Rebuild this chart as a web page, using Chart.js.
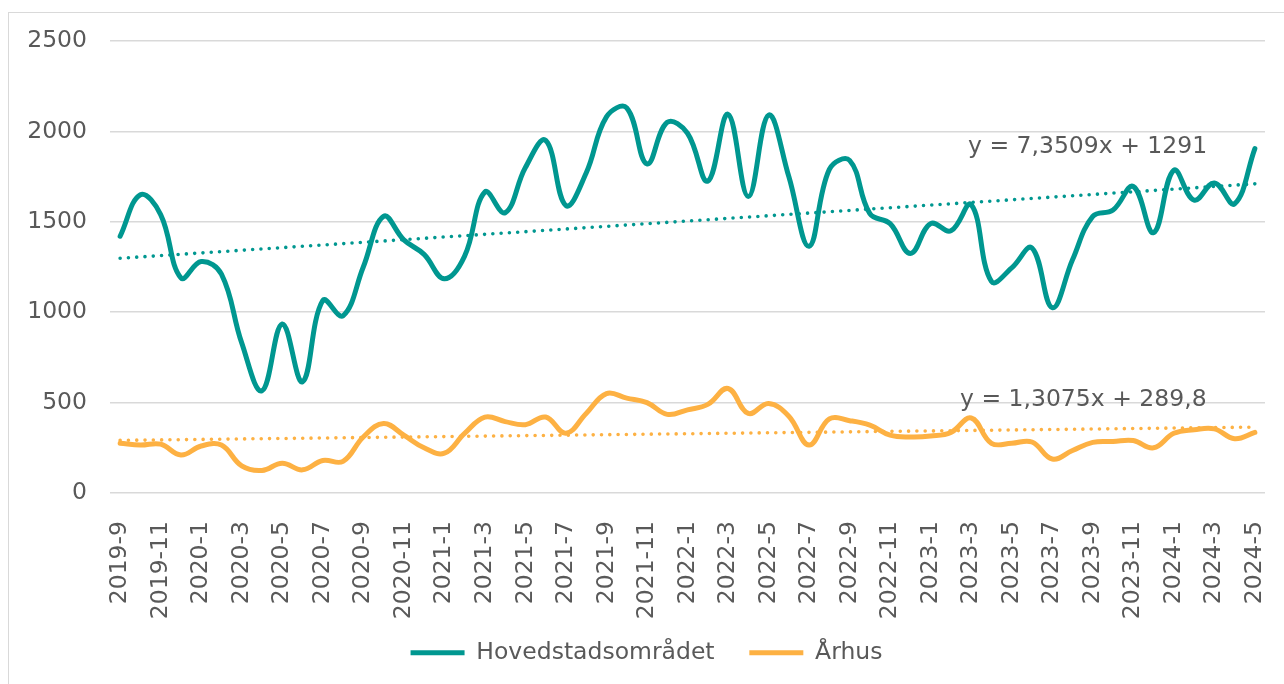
<html lang="da">
<head>
<meta charset="UTF-8">
<title>Hovedstadsområdet / Århus</title>
<script src="https://cdn.jsdelivr.net/npm/chart.js"></script>
<style>
  body { margin: 0; background: #fff; overflow: hidden; }
  #frame { position: absolute; left: 8px; top: 12px; width: 1400px; height: 800px; border: 1.5px solid #d9d9d9; }
  #wrap { position: absolute; left: 0; top: 0; width: 1284px; height: 684px; }
</style>
</head>
<body>
<div id="frame"></div>
<div id="wrap"><canvas id="myChart"></canvas></div>
<script>
// months 2019-9 .. 2024-5
const months = [
  '2019-9','2019-10','2019-11','2019-12',
  '2020-1','2020-2','2020-3','2020-4','2020-5','2020-6','2020-7','2020-8','2020-9','2020-10','2020-11','2020-12',
  '2021-1','2021-2','2021-3','2021-4','2021-5','2021-6','2021-7','2021-8','2021-9','2021-10','2021-11','2021-12',
  '2022-1','2022-2','2022-3','2022-4','2022-5','2022-6','2022-7','2022-8','2022-9','2022-10','2022-11','2022-12',
  '2023-1','2023-2','2023-3','2023-4','2023-5','2023-6','2023-7','2023-8','2023-9','2023-10','2023-11','2023-12',
  '2024-1','2024-2','2024-3','2024-4','2024-5'
];

const hovedstad = [
  1420, 1650, 1540, 1190, 1280, 1210, 830, 565, 935, 615, 1065, 980, 1250, 1530, 1400, 1320,
  1185, 1310, 1665, 1550, 1800, 1950, 1590, 1770, 2080, 2130, 1820, 2050,
  1990, 1725, 2095, 1640, 2090, 1750, 1365, 1790, 1840, 1545, 1490, 1325,
  1490, 1450, 1595, 1170, 1245, 1355, 1025, 1290, 1530, 1565, 1695, 1440,
  1785, 1620, 1715, 1600, 1905
];

const aarhus = [
  275, 265, 270, 210, 260, 265, 150, 125, 165, 128, 180, 175, 310, 385, 320, 250,
  220, 330, 420, 395, 378, 420, 330, 440, 550, 525, 500, 435,
  460, 490, 578, 440, 495, 425, 265, 410, 400, 375, 320, 310,
  315, 335, 415, 275, 275, 282, 188, 235, 280, 285, 290, 250,
  330, 350, 355, 300, 335
];

const seriesNames = ['Hovedstadsområdet', 'Århus'];
const seriesColors = ['#009790', '#FDB143'];

// lineær tendenslinje (fra Excel): y = a*x + b, x = 1..n
const trendSlope = [7.3509, 1.3075];
const trendIntercept = [1291, 289.8];
const trendText = ['y = 7,3509x + 1291', 'y = 1,3075x + 289,8'];

const yTicks = [0, 500, 1000, 1500, 2000, 2500];

function trend(k) {
  return months.map((m, i) => trendSlope[k] * (i + 1) + trendIntercept[k]);
}

const textColor = '#595959';
const fontFamily = '"DejaVu Sans", Verdana, sans-serif';
const fontSize = 23.5;

// tekst til tendenslinjerne
const trendLabels = {
  id: 'trendLabels',
  afterDraw(chart) {
    const ctx = chart.ctx;
    ctx.save();
    ctx.font = fontSize + 'px ' + fontFamily;
    ctx.fillStyle = textColor;
    ctx.textBaseline = 'middle';
    ctx.textAlign = 'left';
    ctx.fillText(trendText[0], 968, 147);
    ctx.fillText(trendText[1], 960, 400);
    ctx.restore();
  }
};

const ctx = document.getElementById('myChart');

new Chart(ctx, {
  type: 'line',
  data: {
    labels: months,
    datasets: [
      {
        label: 'trend1',
        data: trend(0),
        borderColor: seriesColors[0],
        borderWidth: 3.6,
        borderDash: [0, 8.3],
        borderCapStyle: 'round',
        pointRadius: 0,
        tension: 0,
        fill: false
      },
      {
        label: 'trend2',
        data: trend(1),
        borderColor: seriesColors[1],
        borderWidth: 3.6,
        borderDash: [0, 8.3],
        borderCapStyle: 'round',
        pointRadius: 0,
        tension: 0,
        fill: false
      },
      {
        label: seriesNames[0],
        data: hovedstad,
        borderColor: seriesColors[0],
        backgroundColor: seriesColors[0],
        borderWidth: 5,
        borderCapStyle: 'round',
        borderJoinStyle: 'round',
        pointRadius: 0,
        tension: 0.4,
        fill: false
      },
      {
        label: seriesNames[1],
        data: aarhus,
        borderColor: seriesColors[1],
        backgroundColor: seriesColors[1],
        borderWidth: 5,
        borderCapStyle: 'round',
        borderJoinStyle: 'round',
        pointRadius: 0,
        tension: 0.4,
        fill: false
      }
    ]
  },
  options: {
    responsive: true,
    maintainAspectRatio: false,
    animation: false,
    layout: {
      padding: { left: 28, right: 19, top: 41, bottom: 9.5 }
    },
    plugins: {
      tooltip: { enabled: false },
      legend: {
        position: 'bottom',
        labels: {
          generateLabels: (chart) => {
            const items = Chart.defaults.plugins.legend.labels.generateLabels(chart)
              .filter(item => !item.text.startsWith('trend'));
            // lidt ekstra luft mellem de to poster
            items[0].text = items[0].text + '\u2002';
            return items;
          },
          usePointStyle: true,
          pointStyle: 'line',
          pointStyleWidth: 54,
          boxHeight: fontSize,
          padding: 23,
          color: textColor,
          font: { family: fontFamily, size: fontSize }
        }
      }
    },
    scales: {
      x: {
        offset: true,
        grid: { display: false, drawTicks: false },
        border: { display: false },
        ticks: {
          autoSkip: false,
          minRotation: 90,
          maxRotation: 90,
          padding: 28,
          color: textColor,
          font: { family: fontFamily, size: fontSize },
          callback: function (val, i) {
            return i % 2 === 0 ? this.getLabelForValue(val) : '';
          }
        },
        afterFit: (s) => {
          s.height = 125;
          s.paddingLeft = 0;
          s.paddingRight = 0;
        }
      },
      y: {
        min: 0,
        max: 2500,
        afterBuildTicks: (s) => { s.ticks = yTicks.map(v => ({ value: v })); },
        grid: { color: '#d9d9d9', lineWidth: 1.5, drawTicks: false },
        border: { display: false },
        ticks: {
          padding: 23,
          color: textColor,
          font: { family: fontFamily, size: fontSize },
          callback: (v) => String(v)
        },
        afterFit: (s) => { s.width = 82; }
      }
    }
  },
  plugins: [trendLabels]
});
</script>
</body>
</html>
